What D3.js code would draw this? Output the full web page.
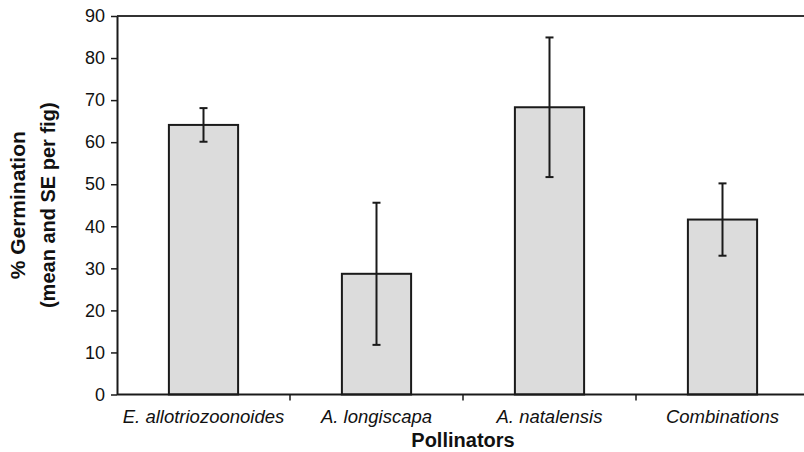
<!DOCTYPE html>
<html>
<head>
<meta charset="utf-8">
<script src="https://cdn.jsdelivr.net/npm/d3@7"></script>
<style>
  html, body { margin: 0; padding: 0; background: #fff; }
  svg { display: block; }
  text { font-family: "Liberation Sans", Arial, Helvetica, sans-serif; fill: #111; }
</style>
</head>
<body>
<svg id="chart" width="804" height="452"></svg>
<script>
const categories = ["E. allotriozoonoides", "A. longiscapa", "A. natalensis", "Combinations"];
const meanValues = [64.1, 28.7, 68.3, 41.6];
const seValues = [4.0, 16.9, 16.6, 8.6];
const yTickValues = [0, 10, 20, 30, 40, 50, 60, 70, 80, 90];
const yTitleLines = ["% Germination", "(mean and SE per fig)"];
const xTitle = "Pollinators";

const svg = d3.select("#chart");
const plotLeft = 117, plotRight = 809, plotTop = 16, plotBottom = 394.5;

const x = d3.scaleBand().domain(categories).range([plotLeft, plotRight])
  .paddingInner(0.6).paddingOuter(0.3);
const y = d3.scaleLinear().domain([0, 90]).range([plotBottom, plotTop]);

const ink = "#1a1a1a";

// bars
svg.append("g").selectAll("rect").data(categories).join("rect")
  .attr("x", d => x(d))
  .attr("y", (d, i) => y(meanValues[i]))
  .attr("width", x.bandwidth())
  .attr("height", (d, i) => y(0) - y(meanValues[i]))
  .attr("fill", "#dcdcdc")
  .attr("stroke", ink)
  .attr("stroke-width", 2);

// error bars
const eg = svg.append("g").attr("stroke", ink).attr("stroke-width", 2);
categories.forEach((c, i) => {
  const cx = x(c) + x.bandwidth() / 2;
  const hi = y(meanValues[i] + seValues[i]);
  const lo = y(meanValues[i] - seValues[i]);
  eg.append("line").attr("x1", cx).attr("x2", cx).attr("y1", hi).attr("y2", lo);
  eg.append("line").attr("x1", cx - 4).attr("x2", cx + 4).attr("y1", hi).attr("y2", hi);
  eg.append("line").attr("x1", cx - 4).attr("x2", cx + 4).attr("y1", lo).attr("y2", lo);
});

// top border line
svg.append("line").attr("x1", plotLeft).attr("x2", plotRight).attr("y1", y(90)).attr("y2", y(90))
  .attr("stroke", "#333").attr("stroke-width", 2);

// y axis
const yAxis = svg.append("g").attr("transform", `translate(${plotLeft},0)`)
  .call(d3.axisLeft(y).tickValues(yTickValues).tickSize(6).tickSizeOuter(0).tickPadding(6));
yAxis.select(".domain").attr("stroke", ink).attr("stroke-width", 2);
yAxis.selectAll(".tick line").attr("stroke", ink).attr("stroke-width", 1.5);
yAxis.selectAll(".tick text").attr("font-size", 18).attr("fill", "#111")
  .style("font-family", "'Liberation Sans', Arial, sans-serif");

// x axis line + boundary ticks
svg.append("line").attr("x1", plotLeft).attr("x2", plotRight).attr("y1", y(0)).attr("y2", y(0))
  .attr("stroke", ink).attr("stroke-width", 2);
const step = x.step();
svg.append("g").selectAll("line").data(d3.range(1, categories.length + 1)).join("line")
  .attr("x1", i => plotLeft + i * step).attr("x2", i => plotLeft + i * step)
  .attr("y1", y(0)).attr("y2", y(0) + 6)
  .attr("stroke", ink).attr("stroke-width", 1.5);

// category labels
svg.append("g").selectAll("text").data(categories).join("text")
  .attr("x", d => x(d) + x.bandwidth() / 2)
  .attr("y", 423)
  .attr("text-anchor", "middle")
  .attr("font-size", 18.5)
  .attr("font-style", "italic")
  .text(d => d);

// x title
svg.append("text").attr("x", (plotLeft + plotRight) / 2).attr("y", 447)
  .attr("text-anchor", "middle").attr("font-size", 20).attr("font-weight", "bold")
  .text(xTitle);

// y title
const yc = (plotTop + plotBottom) / 2;
svg.append("text").attr("transform", `translate(25,${yc}) rotate(-90)`)
  .attr("text-anchor", "middle").attr("font-size", 21).attr("font-weight", "bold")
  .text(yTitleLines[0]);
svg.append("text").attr("transform", `translate(55,${yc}) rotate(-90)`)
  .attr("text-anchor", "middle").attr("font-size", 20).attr("font-weight", "bold")
  .text(yTitleLines[1]);
</script>
</body>
</html>
